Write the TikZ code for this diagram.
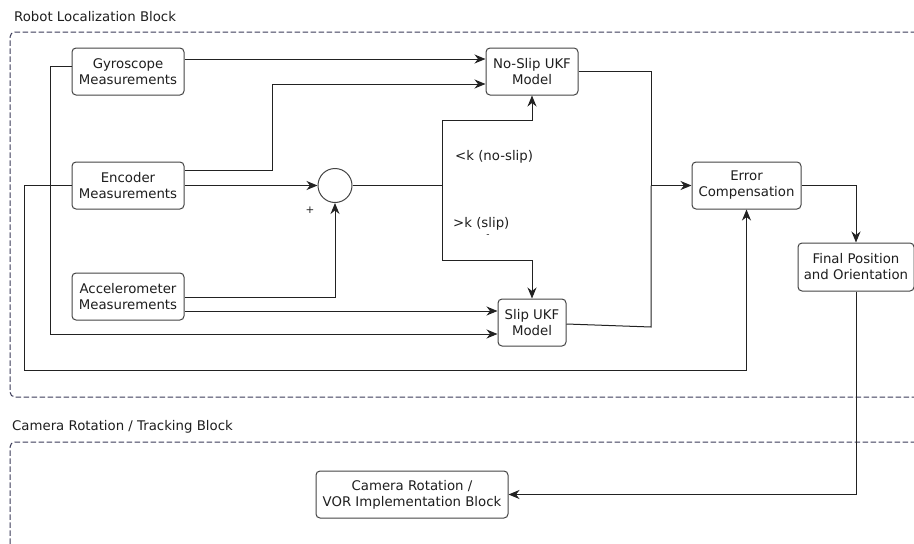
\documentclass[tikz,border=0pt]{standalone}
\usepackage{fontspec}
\setmainfont{DejaVu Sans}
\usetikzlibrary{arrows.meta}
\definecolor{linec}{HTML}{222222}
\definecolor{boxc}{HTML}{444444}
\definecolor{dashc}{HTML}{3A3A58}
\definecolor{txtc}{HTML}{1E1E1E}
\begin{document}
\begin{tikzpicture}[x=1pt,y=-1pt,
  box/.style={draw=boxc, fill=white, rounded corners=4pt, line width=1pt, align=center,
    font=\fontsize{13.3}{16}\selectfont, text=txtc, inner sep=0pt},
  conn/.style={draw=linec, line width=1pt},
  arr/.style={conn, -{Stealth[length=11pt,width=9pt,inset=3.5pt]}},
  lbl/.style={font=\fontsize{13.3}{16}\selectfont, text=txtc, inner sep=0pt},
  dashbox/.style={draw=dashc, line width=1pt, dash pattern=on 5.5pt off 2.5pt, rounded corners=5pt}
]
\useasboundingbox (0,0) rectangle (914,544);

% group frames
\node[lbl, anchor=west] (t1) at (14,17) {Robot Localization Block};
\draw[dashbox] (916,32) -- (10,32) -- (10,397) -- (916,397);
\node[lbl, anchor=west] (t2) at (12,427) {Camera Rotation / Tracking Block};
\draw[dashbox] (916,442) -- (10,442) -- (10,550);

% nodes
\node[box, minimum width=112pt, minimum height=47pt] (gyro) at (128,71.5) {Gyroscope\\Measurements};
\node[box, minimum width=112pt, minimum height=47pt] (enc) at (128,185.5) {Encoder\\Measurements};
\node[box, minimum width=112pt, minimum height=47pt] (acc) at (128,296.5) {Accelerometer\\Measurements};
\node[box, minimum width=92pt, minimum height=47pt] (nsl) at (532,71.5) {No-Slip UKF\\Model};
\node[box, minimum width=68pt, minimum height=47pt] (slip) at (532,322.5) {Slip UKF\\Model};
\node[draw=boxc, line width=1pt, circle, minimum size=34pt, inner sep=0pt] (sum) at (335,185.5) {};
\node[box, minimum width=109pt, minimum height=47pt] (err) at (746.5,185.5) {Error\\Compensation};
\node[box, minimum width=116pt, minimum height=48pt] (fin) at (856,267) {Final Position\\and Orientation};
\node[box, minimum width=192pt, minimum height=47pt] (cam) at (412,494.5) {Camera Rotation /\\VOR Implementation Block};

% labels
\node[lbl, font=\fontsize{10.5}{12}\selectfont] (plus) at (310,210) {+};
\node[lbl, anchor=west] (lk) at (455,157) {<k (no-slip)};
\node[lbl, anchor=west] (gk) at (453,224) {>k (slip)};
\node[lbl, font=\fontsize{9}{10}\selectfont] (minus) at (488,236) {-};

% connectors
\draw[arr] ([yshift=12.5pt]gyro.east) -- ([yshift=12.5pt]nsl.west);
\draw[arr] ([yshift=15.5pt]enc.east) -- ++(88,0) |- ([yshift=-12.5pt]nsl.west);
\draw[arr] (enc.east) -- (sum.west);
\draw[arr] ([yshift=5.5pt]gyro.west) -- ++(-21,0) |- ([yshift=-11.5pt]slip.west);
\draw[arr] (enc.west) -- ++(-47,0) -- ++(0,184.5) -| (err.south);
\draw[arr] ([yshift=-0.5pt]acc.east) -| (sum.south);
\draw[arr] ([yshift=-14.5pt]acc.east) -- ([yshift=11.5pt]slip.west);
\coordinate (j) at (442,185.5);
\draw[conn] (sum.east) -- (j);
\draw[arr] (j) -- ++(0,-65.5) -| (nsl.south);
\draw[arr] (j) -- ++(0,74.5) -| (slip.north);
\draw[arr] (nsl.east) -- ++(73,0) |- (err.west);
\coordinate (m) at (651,327);
\draw[conn] ([yshift=-1.5pt]slip.east) -- (m) -- (m |- err.west);
\draw[arr] (err.east) -| (fin.north);
\draw[arr] (fin.south) |- (cam.east);
\end{tikzpicture}
\end{document}
